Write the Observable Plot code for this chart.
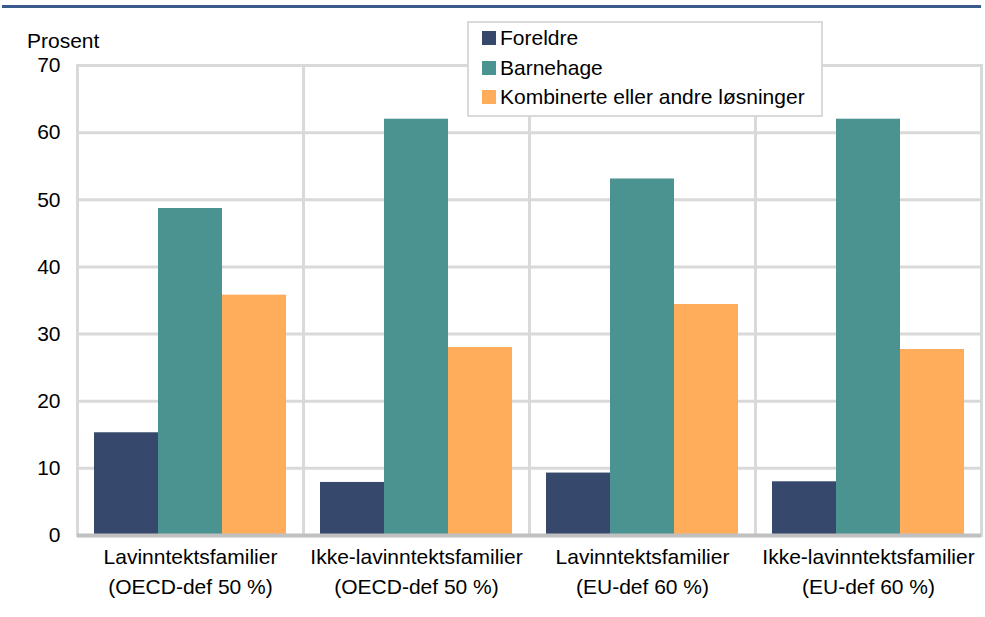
<!DOCTYPE html>
<html>
<head>
<meta charset="utf-8">
<script src="https://cdn.jsdelivr.net/npm/d3@7"></script>
<script src="https://cdn.jsdelivr.net/npm/@observablehq/plot@0.6"></script>
<style>
  html, body { margin: 0; padding: 0; background: #fff; }
  body { width: 985px; height: 617px; position: relative; overflow: hidden; font-family: "Liberation Sans", Arial, sans-serif; }
  #topline { position: absolute; left: 2px; right: 4px; top: 5px; height: 3px; background: #3b5a8c; }
  #ylabel { position: absolute; left: 27px; top: 30px; font-size: 21px; color: #000; line-height: 22px; }
  #legend { position: absolute; left: 467px; top: 21px; width: 352px; height: 92px; border: 2px solid #d9d9d9; background: #fff; box-sizing: content-box; }
  .item { position: absolute; left: 13px; height: 22px; font-size: 21px; line-height: 22px; color: #000; white-space: nowrap; }
  .sw { display: inline-block; width: 14px; height: 14px; margin-right: 4px; }
</style>
</head>
<body>
<div id="topline"></div>
<div id="chart"></div>
<div id="ylabel">Prosent</div>
<div id="legend"></div>
<script>
const categories = [
  "Lavinntektsfamilier\n(OECD-def 50 %)",
  "Ikke-lavinntektsfamilier\n(OECD-def 50 %)",
  "Lavinntektsfamilier\n(EU-def 60 %)",
  "Ikke-lavinntektsfamilier\n(EU-def 60 %)"
];
const series = ["Foreldre", "Barnehage", "Kombinerte eller andre løsninger"];
const foreldre = [15.3, 7.9, 9.3, 8.0];
const barnehage = [48.7, 62.0, 53.1, 62.0];
const kombinerte = [35.8, 28.0, 34.4, 27.7];
const yTicks = [0, 10, 20, 30, 40, 50, 60, 70];
const colors = ["#36486b", "#4a9391", "#ffac5b"];

const values = [foreldre, barnehage, kombinerte];
const data = [];
categories.forEach((c, i) => {
  series.forEach((s, j) => data.push({cat: c, series: s, value: values[j][i]}));
});

const plot = Plot.plot({
  width: 985,
  height: 617,
  marginLeft: 75,
  marginRight: 3,
  marginTop: 65,
  marginBottom: 82,
  style: {fontFamily: "Liberation Sans, Arial, sans-serif", fontSize: "21px", color: "#000", background: "transparent"},
  fx: {domain: categories, padding: 0},
  x: {domain: series, paddingInner: 0, paddingOuter: 0.245, axis: null},
  y: {domain: [0, 70]},
  color: {domain: series, range: colors},
  marks: [
    Plot.frame({stroke: "#d9d9d9", strokeWidth: 3}),
    Plot.gridY(yTicks, {stroke: "#d9d9d9", strokeOpacity: 1, strokeWidth: 3}),
    Plot.barY(data, {fx: "cat", x: "series", y: "value", fill: "series"}),
    Plot.ruleY([0], {stroke: "#c0c0c0", strokeWidth: 4}),
    Plot.axisY({ticks: yTicks, tickSize: 0, tickPadding: 17, label: null, fill: "#000"}),
    Plot.axisFx({anchor: "bottom", tickSize: 0, tickPadding: 8, label: null, lineHeight: 1.4, fill: "#000"})
  ]
});
document.getElementById("chart").appendChild(plot);

const legend = document.getElementById("legend");
const col = plot.scale("color");
series.forEach((s, j) => {
  const d = document.createElement("div");
  d.className = "item";
  d.style.top = (4 + j * 29.5) + "px";
  const sw = document.createElement("span");
  sw.className = "sw";
  sw.style.background = col.apply(s);
  d.appendChild(sw);
  d.appendChild(document.createTextNode(s));
  legend.appendChild(d);
});
</script>
</body>
</html>
